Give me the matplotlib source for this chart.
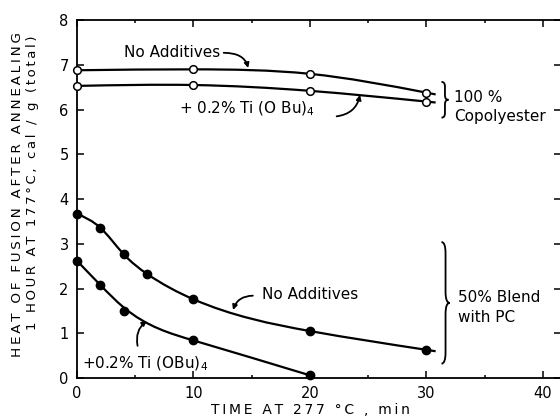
import numpy as np
import matplotlib
matplotlib.use("Agg")
import matplotlib.pyplot as plt
from matplotlib.path import Path
from matplotlib.patches import PathPatch

# heat of fusion after 1 h annealing at 177 C vs. time held at 277 C
t_copoly = [0, 10, 20, 30]
copoly_plain = [6.88, 6.90, 6.80, 6.38]
copoly_ti = [6.53, 6.55, 6.42, 6.18]

t_blend = [0, 2, 4, 6, 10, 20, 30]
blend_plain = [3.67, 3.36, 2.77, 2.33, 1.76, 1.05, 0.63]

t_blend_ti = [0, 2, 4, 10, 20]
blend_ti = [2.62, 2.07, 1.50, 0.84, 0.06]
# hand-drawn trend line for the Ti blend (passes just above the 4 min point)
blend_ti_fit = [2.62, 2.08, 1.58, 0.84, 0.06]

x_ticks = [0, 10, 20, 30, 40]
y_ticks = [0, 1, 2, 3, 4, 5, 6, 7, 8]

plt.rcParams['font.family'] = ['DejaVu Sans']


def spaced(s):
    # widen the letter spacing of axis titles with thin spaces
    return '\u2009'.join(s)


def smooth_path(x, y, tail=0.0):
    """Natural cubic spline through the points, written as a Bezier path."""
    x = np.asarray(x, float)
    y = np.asarray(y, float)
    n = len(x)
    h = np.diff(x)
    d = np.diff(y) / h
    A = np.zeros((n, n))
    b = np.zeros(n)
    A[0, 0] = A[-1, -1] = 1.0
    for i in range(1, n - 1):
        A[i, i - 1] = h[i - 1]
        A[i, i] = 2 * (h[i - 1] + h[i])
        A[i, i + 1] = h[i]
        b[i] = 6 * (d[i] - d[i - 1])
    M = np.linalg.solve(A, b)
    m = np.zeros(n)
    m[:-1] = d - h * (2 * M[:-1] + M[1:]) / 6
    m[-1] = d[-1] + h[-1] * (M[-2] + 2 * M[-1]) / 6
    verts = [(x[0], y[0])]
    codes = [Path.MOVETO]
    for i in range(n - 1):
        verts += [(x[i] + h[i] / 3, y[i] + m[i] * h[i] / 3),
                  (x[i + 1] - h[i] / 3, y[i + 1] - m[i + 1] * h[i] / 3),
                  (x[i + 1], y[i + 1])]
        codes += [Path.CURVE4] * 3
    if tail:
        verts.append((x[-1] + tail, y[-1] + m[-1] * tail))
        codes.append(Path.LINETO)
    return Path(verts, codes)


def brace(ax, x0, top, bot, w=0.7, r=0.15):
    mid = (top + bot) / 2
    xm = x0 + w / 2
    verts = [(x0, top), (xm, top), (xm, top - r),
             (xm, mid + r),
             (xm, mid), (x0 + w, mid),
             (xm, mid), (xm, mid - r),
             (xm, bot + r),
             (xm, bot), (x0, bot)]
    codes = [Path.MOVETO, Path.CURVE3, Path.CURVE3,
             Path.LINETO,
             Path.CURVE3, Path.CURVE3,
             Path.CURVE3, Path.CURVE3,
             Path.LINETO,
             Path.CURVE3, Path.CURVE3]
    ax.add_patch(PathPatch(Path(verts, codes), fc='none', ec='black',
                           lw=1.3, clip_on=False))


fig = plt.figure(figsize=(5.6, 4.2), dpi=100)
ax = fig.add_axes([0.1375, 0.1, 0.865, 0.852])

lw = 1.6
for tx, ty, tail in [(t_copoly, copoly_plain, 0.8), (t_copoly, copoly_ti, 0.8),
                     (t_blend, blend_plain, 0.8), (t_blend_ti, blend_ti_fit, 0.0)]:
    ax.add_patch(PathPatch(smooth_path(tx, ty, tail), fc='none', ec='black',
                           lw=lw, clip_on=False))

ax.plot(t_copoly, copoly_plain, 'o', ms=5.5, mfc='white', mec='black', mew=1.1,
        clip_on=False, zorder=5)
ax.plot(t_copoly, copoly_ti, 'o', ms=5.5, mfc='white', mec='black', mew=1.1,
        clip_on=False, zorder=5)
ax.plot(t_blend, blend_plain, 'o', ms=6, color='black', clip_on=False, zorder=5)
ax.plot(t_blend_ti, blend_ti, 'o', ms=6, color='black', clip_on=False, zorder=5)

ax.set_xlim(0, 41.6)
ax.set_ylim(0, 8)
ax.set_xticks(x_ticks)
ax.set_xticks([5, 15, 25, 35], minor=True)
ax.set_yticks(y_ticks)
ax.tick_params(which='both', direction='in', top=True, right=True,
               labelsize=10.5, width=1.1)
ax.tick_params(which='major', length=5, pad=6)
ax.tick_params(which='minor', length=2.5)
for s in ax.spines.values():
    s.set_linewidth(1.3)

arrow = dict(arrowstyle='-|>', color='black', lw=1.3, mutation_scale=7,
             shrinkA=0, shrinkB=0)
fs = 11

# 100 % copolyester labels
ax.text(4.0, 7.28, 'No Additives', fontsize=fs, ha='left', va='center')
ax.annotate('', xy=(14.7, 6.93), xytext=(12.6, 7.27),
            arrowprops=dict(arrow, connectionstyle='angle3,angleA=0,angleB=-75'))
ax.text(8.8, 6.02, '+ 0.2% Ti (O Bu)$_4$', fontsize=fs, ha='left', va='center')
ax.annotate('', xy=(24.3, 6.33), xytext=(22.3, 5.85),
            arrowprops=dict(arrow, connectionstyle='arc3,rad=0.35'))
brace(ax, 31.3, 6.62, 5.82, w=0.6, r=0.1)
ax.text(32.4, 6.28, '100 %', fontsize=fs, ha='left', va='center')
ax.text(32.4, 5.84, 'Copolyester', fontsize=fs, ha='left', va='center')

# 50 % blend labels
ax.text(15.9, 1.86, 'No Additives', fontsize=fs, ha='left', va='center')
ax.annotate('', xy=(13.4, 1.52), xytext=(15.1, 1.84),
            arrowprops=dict(arrow, connectionstyle='arc3,rad=0.35'))
ax.text(0.4, 0.31, '+0.2% Ti (OBu)$_4$', fontsize=fs, ha='left', va='center')
ax.annotate('', xy=(6.0, 1.28), xytext=(5.2, 0.72),
            arrowprops=dict(arrow, connectionstyle='arc3,rad=-0.3'))
brace(ax, 31.3, 3.04, 0.32, w=0.7, r=0.25)
ax.text(32.7, 1.79, '50% Blend', fontsize=fs, ha='left', va='center')
ax.text(32.7, 1.36, 'with PC', fontsize=fs, ha='left', va='center')

fig.text(310 / 560, 1 - 410 / 420, spaced('TIME AT 277 °C , min'), fontsize=10,
         ha='center', va='center')
fig.text(18 / 560, 1 - 195 / 420, spaced('HEAT OF FUSION AFTER ANNEALING'),
         fontsize=9.7, rotation=90, ha='center', va='center')
fig.text(33 / 560, 1 - 183 / 420, spaced('1 HOUR AT 177°C, cal / g (total)'),
         fontsize=9.5, rotation=90, ha='center', va='center')

fig.savefig('out.png', dpi=100)
